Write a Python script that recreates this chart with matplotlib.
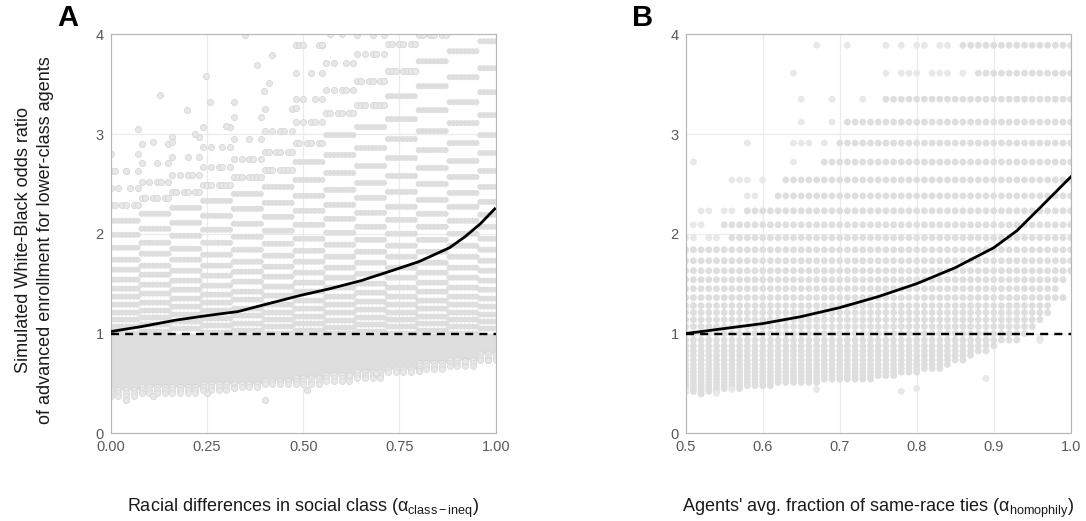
import numpy as np
import matplotlib
matplotlib.use("Agg")
import matplotlib.pyplot as plt

plt.rcParams['font.family'] = ['Liberation Sans', 'DejaVu Sans']
plt.rcParams['mathtext.fontset'] = 'custom'
plt.rcParams['mathtext.rm'] = 'Liberation Sans'
plt.rcParams['mathtext.it'] = 'Liberation Sans:italic'
plt.rcParams['mathtext.sf'] = 'Liberation Sans'

# ---------------- Panel A data ----------------
A_BIN_START = [0.00, 0.08, 0.16, 0.24, 0.32, 0.40, 0.48, 0.56, 0.64, 0.72, 0.80, 0.88, 0.96]
A_BIN_NCOL = [8, 8, 8, 8, 8, 8, 8, 8, 8, 8, 8, 8, 5]
A_FULL_ROWS = [
    [2.13, 1.99, 1.86, 1.74, 1.64, 1.54, 1.45, 1.37, 1.29, 1.21, 1.14, 1.07, 1.00],
    [2.20, 2.05, 1.91, 1.80, 1.68, 1.59, 1.49, 1.40, 1.31, 1.23, 1.16, 1.09, 1.02],
    [2.26, 2.11, 1.98, 1.85, 1.74, 1.63, 1.53, 1.44, 1.35, 1.27, 1.19, 1.12, 1.05],
    [2.33, 2.18, 2.04, 1.91, 1.79, 1.68, 1.58, 1.48, 1.39, 1.31, 1.23, 1.15, 1.08, 1.01],
    [2.40, 2.25, 2.10, 1.97, 1.84, 1.72, 1.62, 1.52, 1.42, 1.34, 1.25, 1.18, 1.10, 1.03],
    [2.47, 2.31, 2.17, 2.03, 1.90, 1.78, 1.67, 1.57, 1.47, 1.38, 1.29, 1.21, 1.14, 1.07, 1.00],
    [2.72, 2.54, 2.38, 2.23, 2.09, 1.95, 1.83, 1.72, 1.61, 1.51, 1.42, 1.33, 1.25, 1.17, 1.10, 1.03],
    [2.99, 2.79, 2.61, 2.44, 2.29, 2.15, 2.01, 1.89, 1.77, 1.66, 1.56, 1.46, 1.37, 1.29, 1.21, 1.13, 1.06, 1.00],
    [3.07, 2.86, 2.68, 2.51, 2.36, 2.21, 2.07, 1.94, 1.82, 1.71, 1.60, 1.50, 1.41, 1.32, 1.24, 1.16, 1.09, 1.02],
    [3.38, 3.15, 2.95, 2.76, 2.58, 2.42, 2.27, 2.14, 2.00, 1.88, 1.77, 1.66, 1.56, 1.46, 1.37, 1.29, 1.21, 1.14, 1.07, 1.00],
    [3.73, 3.48, 3.24, 3.03, 2.84, 2.66, 2.50, 2.34, 2.20, 2.07, 1.94, 1.82, 1.71, 1.61, 1.51, 1.42, 1.33, 1.25, 1.17, 1.10, 1.03],
    [3.83, 3.57, 3.32, 3.11, 2.91, 2.73, 2.57, 2.41, 2.27, 2.13, 2.00, 1.88, 1.77, 1.66, 1.56, 1.46, 1.37, 1.29, 1.21, 1.14, 1.07, 1.00],
    [3.93, 3.66, 3.42, 3.19, 2.99, 2.81, 2.63, 2.47, 2.32, 2.19, 2.07, 1.95, 1.84, 1.73, 1.63, 1.53, 1.44, 1.35, 1.27, 1.19, 1.12, 1.05],
]
# (row value, number of simulated runs visible on that row)
A_PARTIAL_ROWS = [
    [(2.29, 6), (2.46, 4), (2.63, 3), (2.80, 2)],
    [(2.36, 6), (2.52, 5), (2.71, 3), (2.90, 2)],
    [(2.42, 6), (2.59, 5), (2.77, 3), (2.97, 2)],
    [(2.49, 7), (2.67, 5), (2.87, 4), (3.07, 2)],
    [(2.57, 7), (2.75, 5), (2.95, 3), (3.17, 2)],
    [(2.64, 7), (2.82, 6), (3.03, 5), (3.25, 2)],
    [(2.91, 6), (3.12, 5), (3.35, 4), (3.61, 3), (3.89, 2)],
    [(3.21, 6), (3.44, 5), (3.71, 4)],
    [(3.29, 7), (3.53, 6), (3.80, 5), (3.99, 3)],
    [(3.63, 7), (3.90, 6)],
    [(3.99, 6)],
    [],
    [],
]
A_CLOUD_LEVELS = [0.97, 0.93, 0.89, 0.86, 0.82, 0.79, 0.76, 0.73, 0.70, 0.67,
                  0.64, 0.61, 0.58, 0.55, 0.52, 0.49, 0.46, 0.43, 0.40, 0.37]
A_CLOUD_MIN = [0.45, 0.47, 0.48, 0.50, 0.52, 0.55, 0.58, 0.60, 0.63, 0.67, 0.72, 0.76, 0.80]
A_OUT_X = [0.07, 0.128, 0.197, 0.248, 0.258, 0.32, 0.35, 0.38, 0.42, 0.397, 0.41, 0.48,
           0.11, 0.16, 0.01, 0.04, 0.30, 0.22, 0.04, 0.11, 0.25, 0.32, 0.40, 0.51,
           0.62, 0.69, 0.80, 0.92, 0.98, 0.49, 0.50, 0.54, 0.55, 0.57, 0.60]
A_OUT_Y = [3.05, 3.39, 3.24, 3.58, 3.32, 3.32, 3.99, 3.69, 3.79, 3.43, 3.51, 3.26,
           2.92, 2.92, 2.63, 2.63, 3.08, 3.00, 0.33, 0.37, 0.40, 0.45, 0.33, 0.43,
           0.58, 0.60, 0.62, 0.72, 0.73, 3.89, 3.89, 3.89, 3.89, 4.0, 4.0]
A_CURVE_X = [0.00, 0.08, 0.17, 0.25, 0.33, 0.41, 0.49, 0.57, 0.65, 0.73, 0.80, 0.88, 0.92, 0.96, 1.00]
A_CURVE_Y = [1.02, 1.07, 1.135, 1.18, 1.22, 1.30, 1.38, 1.45, 1.53, 1.63, 1.72, 1.86, 1.97, 2.10, 2.26]
A_XTICKS = [0.00, 0.25, 0.50, 0.75, 1.00]
A_XTICKLABELS = ["0.00", "0.25", "0.50", "0.75", "1.00"]

# ---------------- Panel B data ----------------
B_COLS = np.round(np.arange(0.50, 1.0001, 0.01), 2)
B_LEVELS = [3.89, 3.61, 3.35, 3.12, 2.91, 2.72, 2.54, 2.38, 2.23, 2.09, 1.96, 1.84,
            1.73, 1.63, 1.54, 1.45, 1.36, 1.28, 1.21, 1.14, 1.07, 1.00,
            0.935, 0.877, 0.826, 0.781, 0.735, 0.690, 0.649, 0.613, 0.578, 0.543,
            0.510, 0.478, 0.448, 0.420, 0.394]
B_RUN_START = [0.86, 0.88, 0.76, 0.71, 0.70, 0.68, 0.63, 0.62, 0.58, 0.55, 0.56, 0.50,
               0.50, 0.50, 0.50, 0.50, 0.50, 0.50, 0.50, 0.50, 0.50, 0.50,
               0.50, 0.50, 0.50, 0.50, 0.50, 0.50, 0.50, 0.50, 0.50, 0.50,
               0.50, 0.50, 0.50, 0.50, 0.52]
B_RUN_END = [1.00, 1.00, 1.00, 1.00, 1.00, 1.00, 1.00, 1.00, 1.00, 1.00, 1.00, 1.00,
             1.00, 1.00, 0.99, 0.98, 0.99, 0.97, 0.97, 0.96, 0.95, 0.94,
             0.93, 0.90, 0.89, 0.87, 0.86, 0.84, 0.83, 0.80, 0.77, 0.74,
             0.67, 0.61, 0.57, 0.54, 0.52]
B_SPARSE_X = [0.67, 0.71, 0.76, 0.78, 0.80, 0.81, 0.83, 0.84,
              0.64, 0.76, 0.78, 0.79, 0.80, 0.82, 0.83, 0.84, 0.86,
              0.65, 0.69, 0.73,
              0.65, 0.69,
              0.58, 0.64, 0.65, 0.66, 0.68,
              0.51, 0.64,
              0.56, 0.57, 0.58, 0.60,
              0.58, 0.59,
              0.52, 0.53, 0.55, 0.56,
              0.51, 0.52,
              0.50, 0.51, 0.53, 0.54,
              0.54, 0.50, 0.56, 0.67, 0.78, 0.80, 0.89, 0.96, 0.96]
B_SPARSE_Y = [3.89] * 8 + [3.61] * 9 + [3.35] * 3 + [3.12] * 2 + [2.91] * 5 + [2.72] * 2 + \
             [2.54] * 4 + [2.38] * 2 + [2.23] * 4 + [2.09] * 2 + [1.96] * 4 + \
             [0.40, 0.43, 0.44, 0.44, 0.42, 0.45, 0.55, 0.95, 0.93]
B_CURVE_X = [0.50, 0.55, 0.60, 0.65, 0.70, 0.75, 0.80, 0.85, 0.90, 0.93, 0.96, 1.00]
B_CURVE_Y = [1.00, 1.05, 1.10, 1.17, 1.26, 1.37, 1.50, 1.66, 1.86, 2.03, 2.26, 2.57]
B_XTICKS = [0.5, 0.6, 0.7, 0.8, 0.9, 1.0]
B_XTICKLABELS = ["0.5", "0.6", "0.7", "0.8", "0.9", "1.0"]

Y_TICKS = [0, 1, 2, 3, 4]

DENSE = '#dedede'
LIGHT = '#e8e8e8'
EDGE = '#d6d6d6'

W, H = 1086, 521
fig = plt.figure(figsize=(W / 100, H / 100), dpi=100)
axA = fig.add_axes([110.7 / W, (H - 433.3) / H, 385 / W, 399 / H])
axB = fig.add_axes([685.7 / W, (H - 433.3) / H, 385 / W, 399 / H])


def style(ax, xlim, xticks, xlabels):
    ax.set_xlim(*xlim)
    ax.set_ylim(0, 4)
    ax.set_xticks(xticks)
    ax.set_xticklabels(xlabels)
    ax.set_yticks(Y_TICKS)
    ax.set_axisbelow(True)
    ax.grid(True, color='#ebebeb', lw=0.9)
    for s in ax.spines.values():
        s.set_color('#b5b5b5')
        s.set_linewidth(0.8)
    ax.tick_params(length=0, labelsize=10.5, labelcolor='#595959', pad=5)


# ---- draw panel A ----
sA = 19
fx, fy, px, py, cx, cy, lx, ly = [], [], [], [], [], [], [], []
for k, x0 in enumerate(A_BIN_START):
    cols = [x0 + 0.01 * j for j in range(A_BIN_NCOL[k])]
    for y in A_FULL_ROWS[k]:
        fx += cols
        fy += [y] * len(cols)
    for (y, n) in A_PARTIAL_ROWS[k]:
        idx = np.unique(np.round(np.linspace(0, len(cols) - 1, n)).astype(int))
        px += [cols[i] for i in idx]
        py += [y] * len(idx)
    for y in A_CLOUD_LEVELS:
        if y >= A_CLOUD_MIN[k]:
            cx += cols
            cy += [y] * len(cols)
        elif y >= A_CLOUD_MIN[k] - 0.09:
            lx += cols[::2]
            ly += [y] * len(cols[::2])
axA.scatter(cx, cy, s=sA, c=DENSE, edgecolors='none', zorder=1)
axA.scatter(lx, ly, s=sA, c=LIGHT, edgecolors=EDGE, linewidths=0.5, zorder=1)
axA.scatter(fx, fy, s=sA, c=DENSE, edgecolors='none', zorder=1)
axA.scatter(px, py, s=sA, c=LIGHT, edgecolors=EDGE, linewidths=0.6, zorder=1)
axA.scatter(A_OUT_X, A_OUT_Y, s=sA, c=LIGHT, edgecolors=EDGE, linewidths=0.6, zorder=1)
axA.axhline(1, color='black', lw=1.7, dashes=(3.4, 2.6), zorder=3)
axA.plot(A_CURVE_X, A_CURVE_Y, color='black', lw=2.0, zorder=4, solid_capstyle='butt')
style(axA, (0, 1), A_XTICKS, A_XTICKLABELS)

# ---- draw panel B ----
sB = 24
bx, by = [], []
for y, a, b in zip(B_LEVELS, B_RUN_START, B_RUN_END):
    for x in B_COLS:
        if a - 1e-9 <= x <= b + 1e-9:
            bx.append(x)
            by.append(y)
axB.scatter(bx, by, s=sB, c=DENSE, edgecolors='none', zorder=1)
axB.scatter(B_SPARSE_X, B_SPARSE_Y, s=sB, c=LIGHT, edgecolors='none', zorder=1)
axB.axhline(1, color='black', lw=1.7, dashes=(3.4, 2.6), zorder=3)
axB.plot(B_CURVE_X, B_CURVE_Y, color='black', lw=2.0, zorder=4)
style(axB, (0.5, 1.0), B_XTICKS, B_XTICKLABELS)

# ---- labels ----
lab_kw = dict(fontsize=13, color='#1a1a1a')
axA.set_xlabel(r"Racial differences in social class ($\mathrm{\alpha}_{\mathrm{class-ineq}}$)", **lab_kw)
axB.set_xlabel(r"Agents' avg. fraction of same-race ties ($\mathrm{\alpha}_{\mathrm{homophily}}$)", **lab_kw)
axA.xaxis.set_label_coords(0.5, -0.16)
axB.xaxis.set_label_coords(0.5, -0.16)
axA.set_ylabel("Simulated White-Black odds ratio\nof advanced enrollment for lower-class agents",
               linespacing=1.35, **lab_kw)
axA.yaxis.set_label_coords(-0.148, 0.485)

fig.text(67.5 / W, 1 - 18 / H, "A", fontsize=21, fontweight='bold', ha='center', va='center')
fig.text(643 / W, 1 - 18 / H, "B", fontsize=21, fontweight='bold', ha='center', va='center')

fig.savefig("out.png", dpi=100)
